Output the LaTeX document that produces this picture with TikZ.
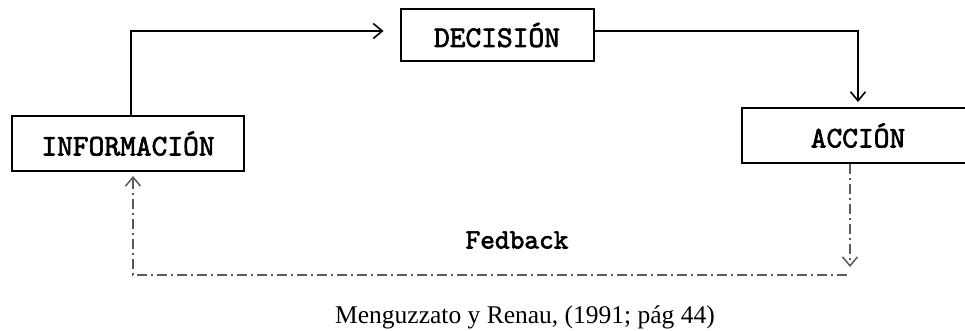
\documentclass[tikz,border=0pt]{standalone}
\usepackage{fontspec}
\setmainfont{Liberation Serif}
\newfontfamily\cajafont{lmmono10-regular.otf}[FakeBold=2.2]
\definecolor{lineagris}{RGB}{90,90,90}
\usepackage{tikz}
\usetikzlibrary{arrows.meta}

\begin{document}
\begin{tikzpicture}[x=1pt, y=1pt,
    caja/.style={draw, line width=2pt, minimum height=55pt, inner sep=0pt,
                 font=\cajafont\fontsize{30}{33}\selectfont},
    flecha/.style={line width=1.6pt, -{Straight Barb[length=9pt, width=15pt]}},
    retro/.style={lineagris, line width=1.5pt,
                  dash pattern=on 10pt off 4pt on 2pt off 4pt},
    retroflecha/.style={retro, -{Straight Barb[length=9pt, width=15pt]}}]
            \useasboundingbox (0,0) rectangle (965,330);

            % Cajas
            \node[caja, minimum width=232pt] (info) at (128,186.5) {INFORMACIÓN};
            \node[caja, minimum width=193pt, minimum height=52pt] (decision) at (497,295) {DECISIÓN};
            \node[caja, minimum width=232pt] (accion) at (858,194.5) {ACCIÓN};

            % Flechas principales
            \draw[flecha, shorten >=16pt] ([xshift=3pt]info.north) |- ([yshift=4pt]decision.west);
            \draw[flecha, shorten >=5pt] ([yshift=4pt]decision.east) -| (accion.north);

            % Retroalimentacion
            \coordinate (fbR) at (850,55);
            \coordinate (fbL) at (133,55);
            \draw[retroflecha, shorten >=8pt] ([xshift=-8pt]accion.south) -- (fbR);
            \draw[retroflecha, shorten >=4pt] ([xshift=-3pt]fbR) -- (fbL) -- ([xshift=5pt]info.south);
            \node[font=\cajafont\fontsize{28}{31}\selectfont] (fedback) at (517,90) {Fedback};

            % Fuente
            \node[font=\fontsize{25.5}{28}\selectfont] (fuente) at (525,13) {Menguzzato y Renau, (1991; pág 44)};
        \end{tikzpicture}
\end{document}
